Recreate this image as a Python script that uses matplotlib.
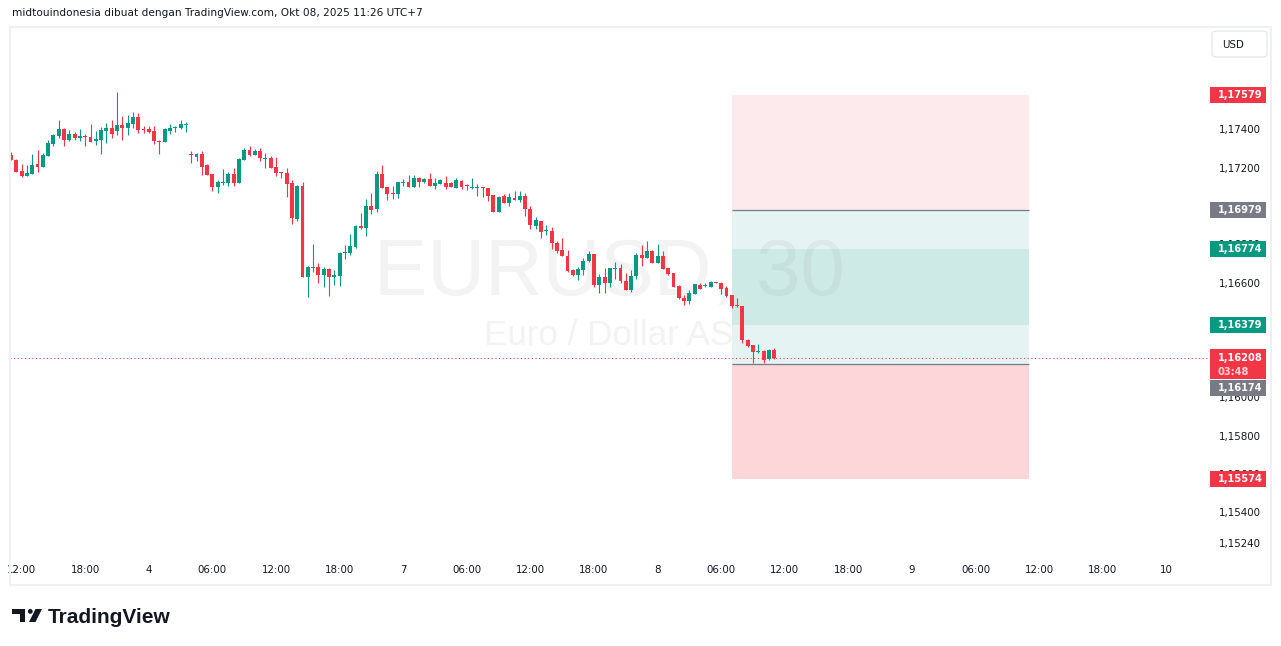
import numpy as np
import matplotlib
matplotlib.use("Agg")
import matplotlib.pyplot as plt
from matplotlib.patches import Rectangle, FancyBboxPatch, Polygon, Circle
from matplotlib.transforms import blended_transform_factory

# EURUSD 30 min candles, bar 0 = Oct 3 11:00 (UTC+7), weekend bars skipped
opens = [1.17266, 1.17240, 1.17182, 1.17158, 1.17168, 1.17219, 1.17205, 1.17262, 1.17325, 1.17367,
         1.17401, 1.17346, 1.17375, 1.17356, 1.17365, 1.17360, 1.17340, 1.17344, 1.17393, 1.17407,
         1.17393, 1.17422, 1.17408, 1.17429, 1.17464, 1.17403, 1.17403, 1.17391, 1.17340, 1.17335,
         1.17393, 1.17408, 1.17407, 1.17424, 1.17271, 1.17257, 1.17271, 1.17214, 1.17167, 1.17100,
         1.17120, 1.17120, 1.17167, 1.17120, 1.17240, 1.17292, 1.17266, 1.17287, 1.17246, 1.17250,
         1.17203, 1.17177, 1.17172, 1.17120, 1.16933, 1.17104, 1.16630, 1.16677, 1.16681, 1.16641,
         1.16671, 1.16630, 1.16636, 1.16754, 1.16756, 1.16785, 1.16895, 1.16885, 1.16999, 1.16984,
         1.17167, 1.17099, 1.17067, 1.17064, 1.17120, 1.17125, 1.17100, 1.17146, 1.17126, 1.17140,
         1.17105, 1.17114, 1.17120, 1.17120, 1.17095, 1.17130, 1.17109, 1.17094, 1.17095, 1.17099,
         1.17094, 1.17057, 1.16970, 1.17053, 1.17017, 1.17041, 1.17032, 1.17053, 1.16984, 1.16897,
         1.16921, 1.16869, 1.16871, 1.16806, 1.16770, 1.16738, 1.16665, 1.16641, 1.16667, 1.16714,
         1.16749, 1.16589, 1.16629, 1.16599, 1.16672, 1.16676, 1.16610, 1.16561, 1.16634, 1.16744,
         1.16728, 1.16765, 1.16702, 1.16738, 1.16676, 1.16651, 1.16582, 1.16519, 1.16504, 1.16540,
         1.16587, 1.16583, 1.16578, 1.16604, 1.16599, 1.16571, 1.16535, 1.16481, 1.16477, 1.16300,
         1.16274, 1.16237, 1.16242, 1.16201, 1.16248]
highs = [1.17283, 1.17245, 1.17219, 1.17214, 1.17271, 1.17292, 1.17276, 1.17344, 1.17375, 1.17448,
         1.17408, 1.17396, 1.17387, 1.17401, 1.17375, 1.17428, 1.17393, 1.17410, 1.17434, 1.17448,
         1.17596, 1.17469, 1.17475, 1.17489, 1.17485, 1.17416, 1.17417, 1.17417, 1.17344, 1.17408,
         1.17428, 1.17417, 1.17448, 1.17438, 1.17287, 1.17276, 1.17287, 1.17219, 1.17167, 1.17135,
         1.17193, 1.17177, 1.17198, 1.17250, 1.17302, 1.17313, 1.17297, 1.17302, 1.17276, 1.17261,
         1.17255, 1.17177, 1.17198, 1.17135, 1.17109, 1.17125, 1.16686, 1.16801, 1.16702, 1.16683,
         1.16676, 1.16665, 1.16759, 1.16796, 1.16853, 1.16900, 1.16963, 1.17036, 1.17067, 1.17182,
         1.17214, 1.17099, 1.17104, 1.17125, 1.17140, 1.17161, 1.17161, 1.17149, 1.17146, 1.17172,
         1.17146, 1.17140, 1.17156, 1.17125, 1.17146, 1.17135, 1.17114, 1.17146, 1.17114, 1.17099,
         1.17094, 1.17057, 1.17053, 1.17062, 1.17069, 1.17078, 1.17078, 1.17066, 1.16999, 1.16942,
         1.16921, 1.16902, 1.16891, 1.16817, 1.16832, 1.16770, 1.16672, 1.16681, 1.16730, 1.16766,
         1.16749, 1.16646, 1.16677, 1.16676, 1.16707, 1.16697, 1.16648, 1.16665, 1.16753, 1.16796,
         1.16817, 1.16770, 1.16801, 1.16765, 1.16676, 1.16651, 1.16587, 1.16535, 1.16559, 1.16592,
         1.16597, 1.16599, 1.16608, 1.16604, 1.16604, 1.16582, 1.16535, 1.16518, 1.16477, 1.16305,
         1.16274, 1.16279, 1.16248, 1.16253, 1.16258]
lows = [1.17241, 1.17177, 1.17152, 1.17156, 1.17167, 1.17179, 1.17203, 1.17261, 1.17314, 1.17354,
        1.17314, 1.17340, 1.17342, 1.17340, 1.17314, 1.17335, 1.17318, 1.17271, 1.17330, 1.17353,
        1.17370, 1.17344, 1.17370, 1.17408, 1.17382, 1.17382, 1.17382, 1.17323, 1.17271, 1.17335,
        1.17375, 1.17386, 1.17403, 1.17386, 1.17224, 1.17234, 1.17161, 1.17161, 1.17078, 1.17067,
        1.17109, 1.17104, 1.17104, 1.17120, 1.17240, 1.17261, 1.17266, 1.17236, 1.17199, 1.17199,
        1.17158, 1.17147, 1.17048, 1.16907, 1.16923, 1.16630, 1.16526, 1.16656, 1.16599, 1.16578,
        1.16531, 1.16589, 1.16583, 1.16723, 1.16745, 1.16780, 1.16879, 1.16843, 1.16958, 1.16968,
        1.17095, 1.17032, 1.17036, 1.17043, 1.17105, 1.17100, 1.17100, 1.17100, 1.17120, 1.17105,
        1.17090, 1.17114, 1.17090, 1.17100, 1.17095, 1.17090, 1.17085, 1.17090, 1.17053, 1.17048,
        1.17027, 1.16970, 1.16970, 1.17017, 1.17001, 1.17032, 1.17022, 1.16947, 1.16881, 1.16881,
        1.16834, 1.16850, 1.16777, 1.16756, 1.16740, 1.16656, 1.16636, 1.16615, 1.16641, 1.16709,
        1.16578, 1.16545, 1.16547, 1.16578, 1.16620, 1.16599, 1.16563, 1.16552, 1.16620, 1.16686,
        1.16728, 1.16702, 1.16702, 1.16671, 1.16639, 1.16578, 1.16514, 1.16481, 1.16488, 1.16540,
        1.16566, 1.16578, 1.16578, 1.16599, 1.16540, 1.16524, 1.16465, 1.16471, 1.16283, 1.16263,
        1.16178, 1.16232, 1.16178, 1.16195, 1.16201]
closes = [1.17241, 1.17179, 1.17158, 1.17172, 1.17214, 1.17205, 1.17266, 1.17328, 1.17370, 1.17401,
          1.17346, 1.17374, 1.17356, 1.17367, 1.17360, 1.17335, 1.17349, 1.17396, 1.17408, 1.17375,
          1.17422, 1.17408, 1.17433, 1.17464, 1.17396, 1.17398, 1.17387, 1.17340, 1.17335, 1.17403,
          1.17407, 1.17414, 1.17428, 1.17428, 1.17266, 1.17271, 1.17205, 1.17161, 1.17100, 1.17125,
          1.17125, 1.17167, 1.17120, 1.17245, 1.17292, 1.17266, 1.17287, 1.17249, 1.17252, 1.17199,
          1.17173, 1.17172, 1.17116, 1.16938, 1.17104, 1.16630, 1.16681, 1.16683, 1.16641, 1.16671,
          1.16630, 1.16641, 1.16754, 1.16759, 1.16791, 1.16895, 1.16885, 1.16999, 1.16979, 1.17167,
          1.17095, 1.17064, 1.17064, 1.17125, 1.17125, 1.17100, 1.17146, 1.17126, 1.17140, 1.17105,
          1.17120, 1.17135, 1.17100, 1.17100, 1.17135, 1.17100, 1.17105, 1.17099, 1.17100, 1.17095,
          1.17053, 1.16970, 1.17048, 1.17017, 1.17048, 1.17032, 1.17053, 1.16984, 1.16899, 1.16926,
          1.16865, 1.16874, 1.16805, 1.16766, 1.16740, 1.16662, 1.16641, 1.16672, 1.16714, 1.16749,
          1.16587, 1.16629, 1.16599, 1.16676, 1.16677, 1.16606, 1.16563, 1.16634, 1.16744, 1.16728,
          1.16765, 1.16702, 1.16738, 1.16671, 1.16646, 1.16578, 1.16518, 1.16504, 1.16545, 1.16592,
          1.16566, 1.16589, 1.16604, 1.16599, 1.16565, 1.16531, 1.16477, 1.16476, 1.16298, 1.16268,
          1.16237, 1.16242, 1.16195, 1.16248, 1.16208]

time_ticks = [2, 14, 26, 38, 50, 62, 74, 86, 98, 110, 122, 134, 146, 158, 170, 182, 194, 206, 218]
time_labels = ["12:00", "18:00", "4", "06:00", "12:00", "18:00", "7", "06:00", "12:00", "18:00",
               "8", "06:00", "12:00", "18:00", "9", "06:00", "12:00", "18:00", "10"]
price_ticks = [1.176, 1.174, 1.172, 1.170, 1.168, 1.166, 1.164, 1.162, 1.160, 1.158, 1.156, 1.154, 1.1524]

# two position tools: short on top, long below
short_entry, short_stop, short_target = 1.16979, 1.17579, 1.16379
long_entry, long_stop, long_target = 1.16174, 1.15574, 1.16774
tool_from, tool_to = 136, 192
last_price = 1.16208
countdown = "03:48"

UP, DOWN, GREY, TXT = "#089981", "#F23645", "#787B86", "#131722"

def fmt(v):
    return f"{v:.5f}".replace(".", ",")

W, H = 1281, 646
fig = plt.figure(figsize=(W / 100, H / 100), dpi=100)
ax_l, ax_t, ax_r, ax_b = 10, 28, 1208, 557
ax = fig.add_axes([ax_l / W, 1 - ax_b / H, (ax_r - ax_l) / W, (ax_b - ax_t) / H])
ymin, ymax = 1.15167, 1.17929
ax.set_xlim(-0.19, 225.85)
ax.set_ylim(ymin, ymax)

# watermark
ax.text(0.5, 0.4953, "EURUSD, 30", transform=ax.transAxes, ha="center", va="baseline",
        fontsize=57.6, family="Liberation Sans", color="#F3F3F4", zorder=0.5)
ax.text(0.5, 0.4008, "Euro / Dollar AS", transform=ax.transAxes, ha="center", va="baseline",
        fontsize=25.2, family="Liberation Sans", color="#F3F3F4", zorder=0.5)

# position zones
w = tool_to - tool_from
ax.add_patch(Rectangle((tool_from, short_entry), w, short_stop - short_entry, fc=DOWN, alpha=0.1, lw=0, zorder=1))
ax.add_patch(Rectangle((tool_from, short_target), w, short_entry - short_target, fc=UP, alpha=0.1, lw=0, zorder=1))
ax.add_patch(Rectangle((tool_from, long_entry), w, long_target - long_entry, fc=UP, alpha=0.1, lw=0, zorder=1))
ax.add_patch(Rectangle((tool_from, long_stop), w, long_entry - long_stop, fc=DOWN, alpha=0.2, lw=0, zorder=1))
ax.hlines([short_entry, long_entry], tool_from, tool_to, colors=GREY, lw=0.9, zorder=2)

ax.axhline(last_price, 0, 1.002, color=DOWN, lw=0.75, ls=(0, (1, 2.5)), clip_on=False, zorder=2.5)

# candles
o, h, l, c = map(np.array, (opens, highs, lows, closes))
idx = np.arange(len(o))
cols = np.where(c >= o, UP, DOWN)
ax.vlines(idx, l, h, colors=cols, lw=0.8, zorder=3)
ax.bar(idx, np.maximum(np.abs(c - o), 0.00005), bottom=np.minimum(o, c), width=0.72,
       color=cols, lw=0, zorder=4)

ax.set_xticks(time_ticks, time_labels)
ax.set_yticks(price_ticks, [fmt(v) for v in price_ticks])
ax.yaxis.tick_right()
ax.tick_params(length=0, labelsize=7.4, labelcolor=TXT)
ax.tick_params(axis="x", pad=6)
ax.tick_params(axis="y", pad=7.7)
for s in ax.spines.values():
    s.set_visible(False)

# price tags on the scale
trans = blended_transform_factory(ax.transAxes, ax.transData)
px = (ymax - ymin) / (ax_b - ax_t)
xs = 1 / (ax_r - ax_l)

def tag(price, color, shift=0):
    yc = price - shift * px
    ax.add_patch(Rectangle((1 + 2 * xs, yc - 8 * px), 56 * xs, 16 * px, transform=trans,
                           fc=color, ec="none", clip_on=False, zorder=6))
    ax.text(1 + 10 * xs, yc, fmt(price), transform=trans, color="white", weight="bold",
            fontsize=7.1, va="center", ha="left", clip_on=False, zorder=7)

tag(short_stop, DOWN)
tag(short_entry, GREY)
tag(long_target, UP)
tag(short_target, UP)
tag(long_stop, DOWN)
ax.add_patch(Rectangle((1 + 2 * xs, last_price - 21.4 * px), 56 * xs, 30 * px, transform=trans,
                       fc=DOWN, ec="none", clip_on=False, zorder=6))
ax.text(1 + 10 * xs, last_price, fmt(last_price), transform=trans, color="white", weight="bold",
        fontsize=7.1, va="center", ha="left", clip_on=False, zorder=7)
ax.text(1 + 10 * xs, last_price - 14 * px, countdown, transform=trans, color="#FFD1D6",
        weight="bold", fontsize=7.1, va="center", ha="left", clip_on=False, zorder=7)
tag(long_entry, GREY, shift=24)

# frame, header, logo (pixel overlay)
ov = fig.add_axes([0, 0, 1, 1])
ov.set_xlim(0, W)
ov.set_ylim(H, 0)
ov.axis("off")
ov.add_patch(Rectangle((10, 27), 1261, 558, fill=False, ec="#EEF0F3", lw=1.5))
ov.add_patch(FancyBboxPatch((1212, 31), 55, 26, boxstyle="round,pad=0,rounding_size=4",
                            fc="white", ec="#E0E3EB", lw=0.8))
ov.text(1222, 44.5, "USD", fontsize=7.4, color=TXT, va="center", ha="left")
ov.text(12, 13, "midtouindonesia dibuat dengan TradingView.com, Okt 08, 2025 11:26 UTC+7",
        fontsize=7.6, color=TXT, va="center", ha="left")

ov.add_patch(Polygon([(12, 609), (25, 609), (25, 622), (19.5, 622), (19.5, 614), (12, 614)], fc=TXT, ec="none"))
ov.add_patch(Circle((30.3, 611.4), 2.4, fc=TXT, ec="none"))
ov.add_patch(Polygon([(35.5, 609), (42, 609), (35.5, 622), (29, 622)], fc=TXT, ec="none"))
ov.text(48, 623, "TradingView", fontsize=15, weight="bold", family="Liberation Sans",
        color=TXT, va="baseline", ha="left")

fig.savefig("out.png", dpi=100)
plt.close(fig)
